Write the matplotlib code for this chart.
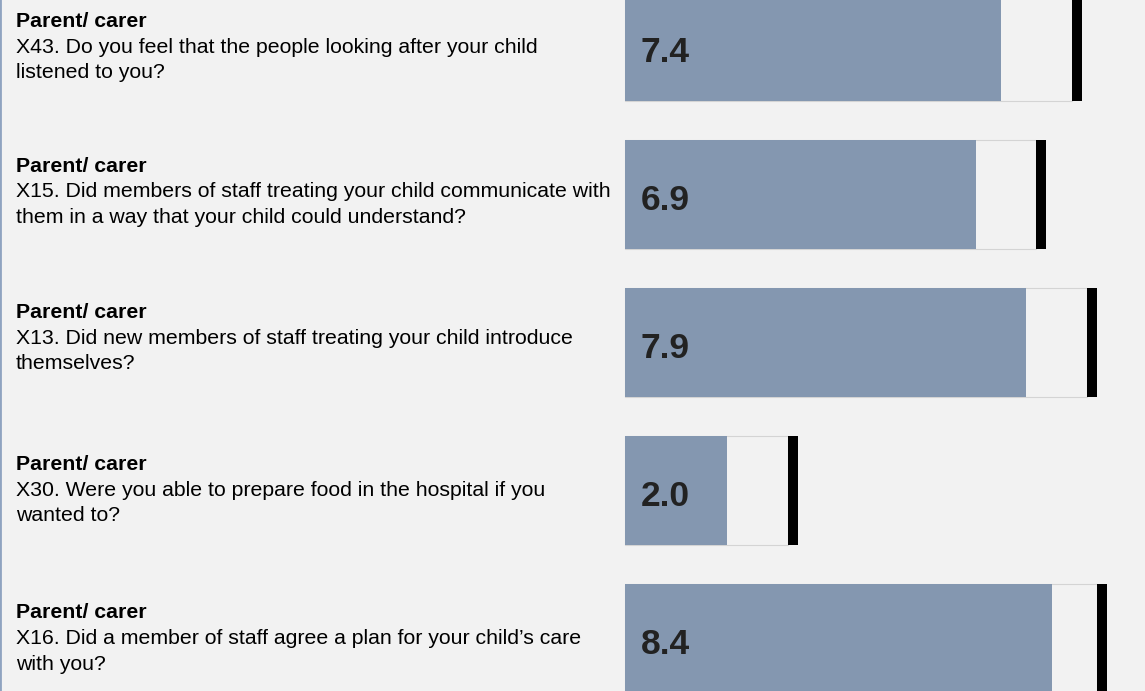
import numpy as np
import matplotlib.pyplot as plt

# question rows, top to bottom
groups = ['Parent/ carer'] * 5
questions = [
    ['X43. Do you feel that the people looking after your child', 'listened to you?'],
    ['X15. Did members of staff treating your child communicate with',
     'them in a way that your child could understand?'],
    ['X13. Did new members of staff treating your child introduce', 'themselves?'],
    ['X30. Were you able to prepare food in the hospital if you', 'wanted to?'],
    ['X16. Did a member of staff agree a plan for your child\u2019s care', 'with you?'],
]
scores = [7.4, 6.9, 7.9, 2.0, 8.4]
upper = [8.8, 8.1, 9.1, 3.2, 9.3]

# header baseline offset from bar centre, in pixels (layout only)
header_off = [-19.2, -22.8, -24.5, -20.5, -20.0]

plt.rcParams['font.family'] = ['Liberation Sans', 'DejaVu Sans']

W, H, DPI = 1145, 691, 100
fig = plt.figure(figsize=(W / DPI, H / DPI), dpi=DPI)
fig.patch.set_facecolor('#f2f2f2')
ax = fig.add_axes([0, 0, 1, 1])
ax.set_facecolor('#f2f2f2')

row_px = 148.0
px_per_unit = 50.8
x0_px = 625
ax.set_xlim(-x0_px / px_per_unit, (W - x0_px) / px_per_unit)
ax.set_ylim(4 + 52.5 / row_px, -46.5 / row_px)

y = np.arange(len(scores))
h = 109 / row_px

# range box, score bar, and black marker at the upper end
ax.barh(y, upper, height=h, color='#f2f2f2', edgecolor='#d4d4d4', linewidth=0.8, zorder=1)
ax.barh(y, scores, height=h, color='#8497b0', edgecolor='none', zorder=2)
ax.barh(y, [10 / px_per_unit] * len(upper), left=upper, height=h, color='black', zorder=3)

tx = (16 - x0_px) / px_per_unit
for i in range(len(scores)):
    ax.text(16 / px_per_unit, y[i] + 15.5 / row_px, f'{scores[i]:.1f}', fontsize=25.5,
            fontweight='bold', color='#222222', va='baseline', ha='left', zorder=4)
    yh = y[i] + header_off[i] / row_px
    ax.text(tx, yh, groups[i], fontsize=15.3, fontweight='bold', color='black',
            va='baseline', ha='left')
    for j, line in enumerate(questions[i]):
        ax.text(tx, yh + 25.5 * (j + 1) / row_px, line, fontsize=15.3, color='black',
                va='baseline', ha='left')

ax.set_xticks([])
ax.set_yticks([])
for s in ['top', 'right', 'bottom']:
    ax.spines[s].set_visible(False)
ax.spines['left'].set_color('#8fa3c0')
ax.spines['left'].set_linewidth(2)

fig.savefig('out.png', dpi=DPI, facecolor=fig.get_facecolor())
